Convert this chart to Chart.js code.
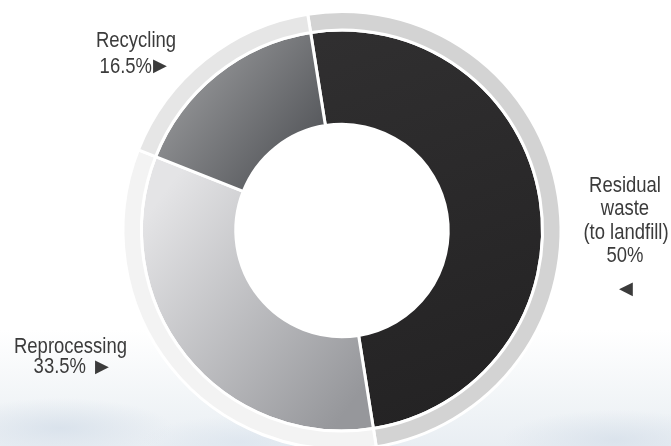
<!DOCTYPE html>
<html>
<head>
<meta charset="utf-8">
<script src="https://cdn.jsdelivr.net/npm/chart.js@4.4.1/dist/chart.umd.min.js"></script>
<style>
  html, body { margin: 0; padding: 0; }
  body {
    width: 671px; height: 446px; overflow: hidden; position: relative;
    background:
      radial-gradient(ellipse 150px 40px at 60px 428px, rgba(212,222,233,0.75), rgba(212,222,233,0) 75%),
      radial-gradient(ellipse 130px 35px at 240px 442px, rgba(215,225,236,0.6), rgba(215,225,236,0) 75%),
      radial-gradient(ellipse 150px 40px at 615px 440px, rgba(212,222,233,0.7), rgba(212,222,233,0) 75%),
      linear-gradient(to bottom, #ffffff 0%, #ffffff 74%, #f3f6f8 88%, #e9eef3 100%);
  }
  #wrap { position: absolute; left: 0; top: 0; width: 671px; height: 470px; }
</style>
</head>
<body>
<div id="wrap"><canvas id="donut" width="671" height="470"></canvas></div>
<script>
const labels = ["Residual waste (to landfill)", "Reprocessing", "Recycling"];
const shares = [50, 33.5, 16.5];
const labelLines = [["Residual", "waste", "(to landfill)"], ["Reprocessing"], ["Recycling"]];
const ringShades = ["#d3d3d3", "#f3f3f3", "#e6e6e6"];

// gradients for the inner slices, built around the chart centre
function sliceFill(context) {
  const chart = context.chart;
  const area = chart.chartArea;
  if (!area) return "#888";
  const c = chart.ctx;
  const cx = (area.left + area.right) / 2;
  const cy = (area.top + area.bottom) / 2;
  let g;
  if (context.dataIndex === 0) {
    g = c.createLinearGradient(cx, cy - 200, cx + 150, cy + 200);
    g.addColorStop(0, "#302f30");
    g.addColorStop(1, "#232223");
  } else if (context.dataIndex === 1) {
    g = c.createLinearGradient(cx - 200, cy - 10, cx + 20, cy + 160);
    g.addColorStop(0, "#e4e4e6");
    g.addColorStop(1, "#96979b");
  } else {
    g = c.createLinearGradient(cx - 190, cy - 140, cx - 60, cy - 40);
    g.addColorStop(0, "#9a9b9d");
    g.addColorStop(1, "#55575b");
  }
  return g;
}

const labelPlugin = {
  id: "sideLabels",
  afterDraw(chart) {
    const c = chart.ctx;
    c.save();
    c.fillStyle = "#3b3b3b";
    c.textBaseline = "alphabetic";
    function txt(s, x, y, align) {
      c.save();
      c.font = '22px "Liberation Sans", Arial, sans-serif';
      c.translate(x, y);
      c.scale(0.84, 1);
      c.textAlign = align;
      c.fillText(s, 0, 0);
      c.restore();
    }
    function tri(s, x, y) {
      c.font = '18px "DejaVu Sans", sans-serif';
      c.textAlign = "center";
      c.textBaseline = "middle";
      c.fillText(s, x, y);
      c.textBaseline = "alphabetic";
    }
    // Residual waste
    const r = labelLines[0];
    txt(r[0], 625, 192, "center");
    txt(r[1], 625, 215, "center");
    txt(r[2], 626, 239, "center");
    txt(shares[0] + "%", 625, 262, "center");
    tri("\u25C0", 626, 289);
    // Recycling
    txt(labelLines[2][0], 136, 47, "center");
    txt(shares[2] + "%", 152, 73, "right");
    tri("\u25B6", 160, 66);
    // Reprocessing
    txt(labelLines[1][0], 14, 353, "left");
    txt(shares[1] + "%", 86, 373, "right");
    tri("\u25B6", 102, 367);
    c.restore();
  }
};

new Chart(document.getElementById("donut"), {
  type: "doughnut",
  data: {
    labels: labels,
    datasets: [
      {
        data: shares,
        backgroundColor: ringShades,
        borderColor: "#ffffff",
        borderWidth: 3,
        weight: 18.5
      },
      {
        data: shares,
        backgroundColor: sliceFill,
        borderColor: "#ffffff",
        borderWidth: 3,
        weight: 94.5
      }
    ]
  },
  options: {
    responsive: false,
    animation: false,
    rotation: -9,
    cutout: "48.5%",
    layout: { padding: { top: 10, bottom: 19, left: 13, right: 0 } },
    plugins: {
      legend: { display: false },
      tooltip: { enabled: false }
    }
  },
  plugins: [labelPlugin]
});
</script>
</body>
</html>
